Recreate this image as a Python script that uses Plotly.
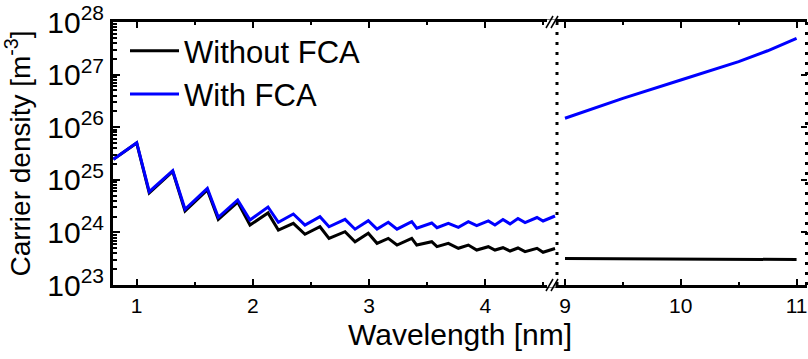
import plotly.graph_objects as go

# ---------------- data ----------------
wl_left = [0.80, 1.00, 1.108, 1.31, 1.416, 1.608, 1.702, 1.869, 1.975, 2.13,
           2.219, 2.348, 2.448, 2.577, 2.655, 2.793, 2.879, 2.993, 3.068, 3.165,
           3.24, 3.367, 3.41, 3.539, 3.584, 3.682, 3.768, 3.854, 3.926, 4.026,
           4.083, 4.152, 4.213, 4.281, 4.342, 4.445, 4.497, 4.60]

without_fca_left = [2.45e25, 5.0e25, 5.61e24, 1.44e25, 2.55e24, 6.40e24, 1.76e24, 3.78e24, 1.38e24, 2.34e24,
                    1.11e24, 1.49e24, 9.2e23, 1.28e24, 7.7e23, 1.03e24, 6.65e23, 9.6e23, 6.2e23, 7.7e23,
                    5.75e23, 7.7e23, 5.75e23, 6.65e23, 5.35e23, 6.2e23, 4.99e23, 5.75e23, 4.62e23, 5.35e23,
                    4.62e23, 5.12e23, 4.43e23, 5.05e23, 4.30e23, 4.99e23, 4.19e23, 4.94e23]

with_fca_left = [2.45e25, 5.07e25, 5.94e24, 1.49e25, 2.75e24, 6.89e24, 1.94e24, 4.13e24, 1.72e24, 3.04e24,
                 1.56e24, 2.24e24, 1.38e24, 1.99e24, 1.28e24, 1.77e24, 1.15e24, 1.67e24, 1.16e24, 1.56e24,
                 1.15e24, 1.60e24, 1.20e24, 1.51e24, 1.23e24, 1.49e24, 1.25e24, 1.60e24, 1.34e24, 1.65e24,
                 1.38e24, 1.76e24, 1.45e24, 1.84e24, 1.54e24, 1.92e24, 1.65e24, 2.05e24]

wl_right = [9.0, 9.5, 10.0, 10.5, 10.75, 11.0]
without_fca_right = [3.2e23, 3.15e23, 3.15e23, 3.1e23, 3.08e23, 3.05e23]
with_fca_right = [1.48e26, 3.54e26, 7.89e26, 1.76e27, 2.84e27, 4.9e27]

y_tickvals = [1e23, 1e24, 1e25, 1e26, 1e27, 1e28]
y_ticktext = ["10<sup>23</sup>", "10<sup>24</sup>", "10<sup>25</sup>",
              "10<sup>26</sup>", "10<sup>27</sup>", "10<sup>28</sup>"]

# ---------------- layout geometry ----------------
W, H = 808, 359
L, R, T, B = 113, 1, 22, 74
PW = W - L - R
PH = H - T - B
BREAK_PX = 557
split = (BREAK_PX - L) / PW

def px_x(px):
    return (px - L) / PW

def px_y(py):
    return (T + PH - py) / PH

FONT = "Liberation Sans, Arial, sans-serif"
BLACK = "black"
BLUE = "rgb(0,0,255)"

fig = go.Figure()
fig.add_trace(go.Scatter(x=wl_left, y=without_fca_left, mode="lines", name="Without FCA",
                         legendgroup="wo", line=dict(color=BLACK, width=3)))
fig.add_trace(go.Scatter(x=wl_left, y=with_fca_left, mode="lines", name="With FCA",
                         legendgroup="w", line=dict(color=BLUE, width=3)))
fig.add_trace(go.Scatter(x=wl_right, y=without_fca_right, mode="lines", name="Without FCA",
                         legendgroup="wo", showlegend=False, xaxis="x2", yaxis="y2",
                         line=dict(color=BLACK, width=3)))
fig.add_trace(go.Scatter(x=wl_right, y=with_fca_right, mode="lines", name="With FCA",
                         legendgroup="w", showlegend=False, xaxis="x2", yaxis="y2",
                         line=dict(color=BLUE, width=3)))

xcommon = dict(showline=True, linecolor=BLACK, linewidth=3, mirror="ticks",
               ticks="inside", ticklen=6, tickwidth=2, tickcolor=BLACK,
               dtick=1, tick0=0, tickfont=dict(size=21, color=BLACK, family=FONT),
               minor=dict(ticks="inside", ticklen=3, tickwidth=2, tickcolor=BLACK, dtick=0.5, tick0=0),
               showgrid=False, zeroline=False, automargin=False)

fig.update_layout(
    width=W, height=H,
    margin=dict(l=L, r=R, t=T, b=B, pad=0),
    paper_bgcolor="white", plot_bgcolor="white",
    font=dict(family=FONT, color=BLACK),
    xaxis=dict(domain=[0, split], range=[0.796, 4.617], anchor="y", **xcommon),
    xaxis2=dict(domain=[split, 1], range=[8.931, 11.09], anchor="y2", **xcommon),
    yaxis=dict(type="log", range=[23, 28], domain=[0, 1], anchor="x",
               showline=True, linecolor=BLACK, linewidth=3, mirror=False,
               ticks="inside", ticklen=7, tickwidth=2, tickcolor=BLACK,
               tickmode="array", tickvals=y_tickvals, ticktext=y_ticktext,
               tickfont=dict(size=30, color=BLACK, family=FONT),
               minor=dict(ticks="inside", ticklen=4, tickwidth=1.5, tickcolor=BLACK, dtick="D1"),
               showgrid=False, zeroline=False, automargin=False,
               title=dict(text="Carrier density [m<sup>-3</sup>]",
                          font=dict(size=28, color=BLACK, family=FONT), standoff=12)),
    yaxis2=dict(type="log", range=[23, 28], domain=[0, 1], anchor="x2", side="right",
                showline=False, ticks="inside", ticklen=6, tickwidth=2, tickcolor=BLACK,
                tickmode="array", tickvals=y_tickvals, showticklabels=False,
                showgrid=False, zeroline=False, automargin=False),
    legend=dict(x=px_x(125), y=px_y(24), xanchor="left", yanchor="top",
                font=dict(size=31, color=BLACK, family=FONT),
                bgcolor="rgba(0,0,0,0)", borderwidth=0, itemwidth=49,
                tracegroupgap=0),
    showlegend=True,
)

# x-axis title centred under the whole broken axis
fig.add_annotation(text="Wavelength [nm]", xref="paper", yref="paper",
                   x=0.5, y=px_y(334), xanchor="center", yanchor="middle",
                   showarrow=False, font=dict(size=30, color=BLACK, family=FONT))

shapes = []
# dotted separator at the break and dotted right edge
for xp in (split, px_x(806.5)):
    shapes.append(dict(type="line", xref="paper", yref="paper", x0=xp, x1=xp, y0=0, y1=1,
                       line=dict(color=BLACK, width=3, dash="3px,7px"), layer="above"))
# break marks (//) on top and bottom borders
for ypx in (T, T + PH):
    shapes.append(dict(type="line", xref="paper", yref="paper",
                       x0=px_x(547), x1=px_x(555.5), y0=px_y(ypx), y1=px_y(ypx),
                       line=dict(color="white", width=5), layer="above"))
    for dx in (0, 5):
        shapes.append(dict(type="line", xref="paper", yref="paper",
                           x0=px_x(546 + dx), x1=px_x(553 + dx),
                           y0=px_y(ypx + 6), y1=px_y(ypx - 6),
                           line=dict(color=BLACK, width=1.5), layer="above"))
fig.update_layout(shapes=shapes)

fig.write_html("out.html")
